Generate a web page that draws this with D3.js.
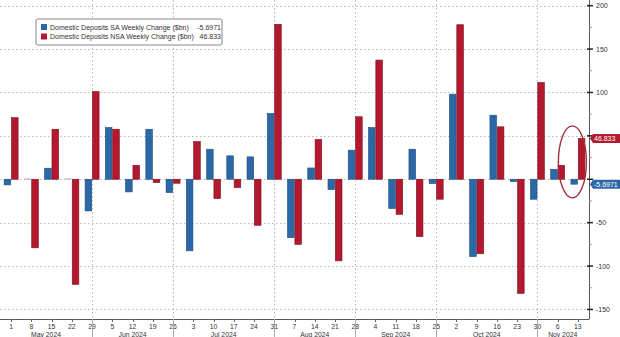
<!DOCTYPE html>
<html><head><meta charset="utf-8">
<script src="https://cdn.jsdelivr.net/npm/d3@7"></script>
<style>
html,body{margin:0;padding:0;background:#fff;}
svg{display:block;font-family:"Liberation Sans",Arial,sans-serif;}
</style></head>
<body><svg id="c" width="620" height="337"></svg>
<script>
const dates = ["2024-05-01","2024-05-08","2024-05-15","2024-05-22","2024-05-29","2024-06-05","2024-06-12","2024-06-19","2024-06-26","2024-07-03","2024-07-10","2024-07-17","2024-07-24","2024-07-31","2024-08-07","2024-08-14","2024-08-21","2024-08-28","2024-09-04","2024-09-11","2024-09-18","2024-09-25","2024-10-02","2024-10-09","2024-10-16","2024-10-23","2024-10-30","2024-11-06","2024-11-13"];
const saValues = [-6.5,0.8,12.7,0.8,-36.5,59.5,-14.6,57.6,-15.4,-82.5,34.6,27,25.8,75.8,-67.3,13,-12,33.5,59.6,-33.8,34.6,-5,98,-89,73.8,-2.7,-23,11.5,-5.6971];
const nsaValues = [71,-79,57.6,-121,101,57.6,16,-3.8,-4.6,43.4,-22.3,-9.6,-53,178.5,-75,45.8,-94,72,137.3,-40.4,-66,-23,178,-85.8,60.4,-131.5,111.5,16,46.833];
const seriesNames = ["Domestic Deposits SA Weekly Change ($bn)","Domestic Deposits NSA Weekly Change ($bn)"];
const lastLabels = ["-5.6971","46.833"];
const yTicks = [200,150,100,50,0,-50,-100,-150];
const yMinorTicks = [175,125,75,25,-25,-75,-125];
const monthSeparators = ["2024-05-29","2024-06-26","2024-07-31","2024-08-28","2024-09-25","2024-10-30"];
const monthLabels = ["May 2024","Jun 2024","Jul 2024","Aug 2024","Sep 2024","Oct 2024","Nov 2024"];

const BLUE="#2d68a6", RED="#b3182e";
const svg = d3.select("#c");
const L=0, R=589, T=0, B=319;

const x = d3.scaleBand().domain(dates).range([1,588]).padding(0);
const xc = d => x(d)+x.bandwidth()/2;
const sub = d3.scaleBand().domain(["SA","NSA"]).range([-7,7]).paddingInner(0.1);
const y = d3.scaleLinear().domain([-161,206.5]).range([B,T]);

// horizontal grid
svg.append("g").selectAll("line").data(yTicks).join("line")
  .attr("x1",L).attr("x2",R).attr("y1",d=>Math.round(y(d))+0.5).attr("y2",d=>Math.round(y(d))+0.5)
  .attr("stroke","#b8b8b8").attr("stroke-width",1).attr("stroke-dasharray","1.5,2.5");
// vertical grid at month separators
svg.append("g").selectAll("line").data(monthSeparators).join("line")
  .attr("x1",d=>Math.round(xc(d))+0.5).attr("x2",d=>Math.round(xc(d))+0.5).attr("y1",T).attr("y2",B)
  .attr("stroke","#b8b8b8").attr("stroke-width",1).attr("stroke-dasharray","1.5,2.5");

// bars
const rows = dates.map((d,i)=>({date:d, SA:saValues[i], NSA:nsaValues[i]}));
const g = svg.append("g");
[["SA",BLUE,"#1d4f82"],["NSA",RED,"#7e0f1f"]].forEach(([k,fill,stroke])=>{
  g.selectAll("rect."+k).data(rows).join("rect").attr("class",k)
    .attr("x",d=>xc(d.date)+sub(k))
    .attr("width",sub.bandwidth())
    .attr("y",d=>y(Math.max(0,d[k])))
    .attr("height",d=>Math.max(0.8,Math.abs(y(d[k])-y(0))))
    .attr("fill", d=>Math.abs(d[k])<1.5 ? "#999" : fill)
    .attr("stroke", d=>Math.abs(d[k])<1.5 ? "none" : stroke).attr("stroke-width",0.6);
});

// x axis line
svg.append("line").attr("x1",L).attr("x2",R).attr("y1",B+0.5).attr("y2",B+0.5).attr("stroke","#555").attr("stroke-width",1);
// right axis line
svg.append("line").attr("x1",R+0.5).attr("x2",R+0.5).attr("y1",T).attr("y2",B+0.5).attr("stroke","#555").attr("stroke-width",1);

// x ticks and labels
const xa = svg.append("g").attr("font-size","6.8px").attr("fill","#333").attr("text-anchor","middle");
xa.selectAll("line").data(dates).join("line")
  .attr("x1",d=>Math.round(xc(d))+0.5).attr("x2",d=>Math.round(xc(d))+0.5).attr("y1",B).attr("y2",B+3)
  .attr("stroke","#666");
xa.selectAll("text").data(dates).join("text")
  .attr("x",d=>xc(d)).attr("y",B+10).text(d=>+d.slice(8,10));
// month separator ticks below axis
svg.append("g").selectAll("line").data(monthSeparators).join("line")
  .attr("x1",d=>Math.round(xc(d))+0.5).attr("x2",d=>Math.round(xc(d))+0.5).attr("y1",B).attr("y2",337)
  .attr("stroke","#aaa").attr("stroke-width",1);
// month labels
const bounds = [L, ...monthSeparators.map(xc), 588];
svg.append("g").attr("font-size","6.8px").attr("fill","#333").attr("text-anchor","middle")
  .selectAll("text").data(monthLabels).join("text")
  .attr("x",(d,i)=>(bounds[i]+bounds[i+1])/2).attr("y",B+17.5).text(d=>d);

// last-value positions (tick labels hidden behind tags are not drawn)
const lastVals = [saValues[saValues.length-1], nsaValues[nsaValues.length-1]];
const hidden = t => lastVals.some(v => Math.abs(y(t)-y(v)) < 9);

// y axis (right)
const ya = svg.append("g");
ya.selectAll("line.maj").data(yTicks).join("line").attr("class","maj")
  .attr("x1",R-2).attr("x2",R+4).attr("y1",d=>y(d)).attr("y2",d=>y(d)).attr("stroke","#222").attr("stroke-width",1.5);
ya.selectAll("line.min").data(yMinorTicks).join("line").attr("class","min")
  .attr("x1",R).attr("x2",R+3).attr("y1",d=>y(d)).attr("y2",d=>y(d)).attr("stroke","#999").attr("stroke-width",1);
ya.selectAll("text").data(yTicks.filter(t=>!hidden(t))).join("text")
  .attr("x",R+7).attr("y",d=>y(d)+2.5).attr("font-size","7px").attr("fill","#333").text(d=>d);

// last-value tags
[[lastVals[1],lastLabels[1],RED],[lastVals[0],lastLabels[0],BLUE]].forEach(([v,t,c])=>{
  const yy=y(v);
  svg.append("path").attr("d",`M${R+1},${yy} L${R+4},${yy-4.5} L620,${yy-4.5} L620,${yy+4.5} L${R+4},${yy+4.5} Z`).attr("fill",c);
  svg.append("text").attr("x",R+5).attr("y",yy+2.5).attr("font-size","7px").attr("fill","#fff").text(t);
});

// highlight ellipse
const lastD = dates[dates.length-1];
svg.append("ellipse").attr("cx",xc(lastD)-5.5).attr("cy",y(20)).attr("rx",14).attr("ry",36)
  .attr("fill","none").attr("stroke","#a3303b").attr("stroke-width",1.4);

// legend
const lg = svg.append("g").attr("transform","translate(36,19)");
lg.append("rect").attr("x",0).attr("y",0).attr("width",186).attr("height",26).attr("rx",2)
  .attr("fill","#fff").attr("stroke","#888").attr("stroke-width",1);
[[BLUE,seriesNames[0],lastLabels[0]],[RED,seriesNames[1],lastLabels[1]]].forEach(([c,n,v],i)=>{
  lg.append("rect").attr("x",5).attr("y",5+i*9.5).attr("width",6).attr("height",6).attr("fill",c);
  lg.append("text").attr("x",14).attr("y",10.5+i*9.5).attr("font-size","7px").attr("fill","#333").text(n);
  lg.append("text").attr("x",185).attr("y",10.5+i*9.5).attr("font-size","7px").attr("fill","#333").attr("text-anchor","end").text(v);
});
</script></body></html>
